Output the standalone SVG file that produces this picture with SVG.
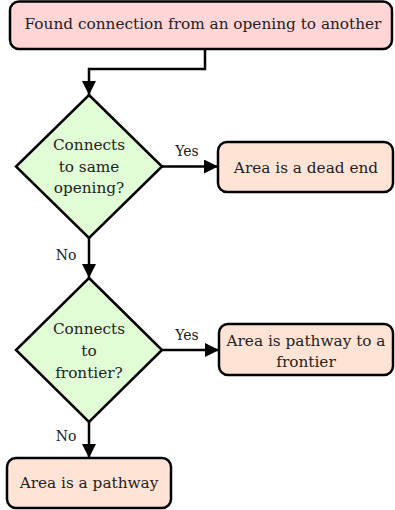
<svg xmlns="http://www.w3.org/2000/svg" width="395" height="510" viewBox="0 0 395 510">
<style>
text{font-family:'DejaVu Serif',serif;font-size:15.3px;fill:#222;text-anchor:middle}
.start{fill:#ffd5d6;stroke:#000;stroke-width:2.5}
.dec{fill:#e1fdd6;stroke:#000;stroke-width:2.5}
.res{fill:#ffe4d5;stroke:#000;stroke-width:2.5}
.edge{fill:none;stroke:#000;stroke-width:2.5}
.lbl{font-size:14px}
</style>
<defs>
<marker id="arr" viewBox="0 0 10 10" refX="10" refY="5" markerWidth="14" markerHeight="14" markerUnits="userSpaceOnUse" orient="auto">
<path d="M0,0 L10,5 L0,10 z" fill="#000"/>
</marker>
</defs>
<g id="start">
<rect class="start" x="10" y="1.5" width="382" height="47.5" rx="9"/>
<text x="203" y="29">Found connection from an opening to another</text>
</g>
<g id="d1">
<polygon class="dec" points="89,95 162,166.5 89,238 16,166.5"/>
<text x="89" y="150">Connects</text>
<text x="89" y="172">to same</text>
<text x="89" y="193">opening?</text>
</g>
<g id="deadend">
<rect class="res" x="218" y="142" width="175" height="50" rx="9"/>
<text x="306" y="173">Area is a dead end</text>
</g>
<g id="d2">
<polygon class="dec" points="89,278 162,350 89,422 16,350"/>
<text x="89" y="334">Connects</text>
<text x="89" y="356">to</text>
<text x="89" y="378">frontier?</text>
</g>
<g id="frontier">
<rect class="res" x="219" y="324" width="174" height="51" rx="9"/>
<text x="306" y="346">Area is pathway to a</text>
<text x="306" y="367">frontier</text>
</g>
<g id="pathway">
<rect class="res" x="7" y="458" width="164" height="50" rx="9"/>
<text x="89" y="488">Area is a pathway</text>
</g>
<g id="connectors">
<path class="edge" d="M205,49 V69 H89 V95" marker-end="url(#arr)"/>
<path class="edge" d="M162,166.5 H218" marker-end="url(#arr)"/>
<path class="edge" d="M89,238 V278" marker-end="url(#arr)"/>
<path class="edge" d="M162,350 H219" marker-end="url(#arr)"/>
<path class="edge" d="M89,422 V458" marker-end="url(#arr)"/>
<text class="lbl" x="187" y="156">Yes</text>
<text class="lbl" x="66" y="260">No</text>
<text class="lbl" x="187" y="340">Yes</text>
<text class="lbl" x="66" y="441">No</text>
</g>
</svg>
